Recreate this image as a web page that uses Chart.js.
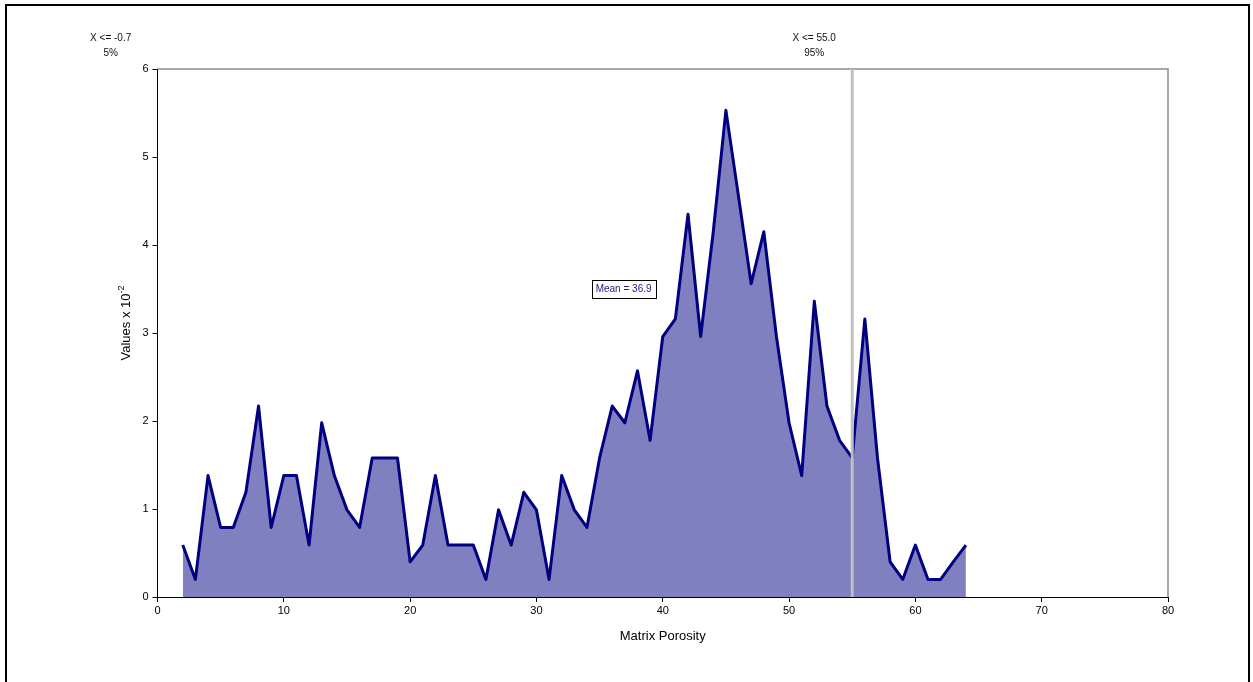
<!DOCTYPE html>
<html>
<head>
<meta charset="utf-8">
<title>Matrix Porosity</title>
<script src="https://cdn.jsdelivr.net/npm/chart.js@4/dist/chart.umd.min.js"></script>
<style>
  html, body { margin: 0; padding: 0; background: #fff; }
  #wrap { width: 1253px; height: 682px; position: relative; }
</style>
</head>
<body>
<div id="wrap"><canvas id="c" width="1253" height="682"></canvas></div>
<script>
// Porosity classes and their values (x 10^-2)
const porosity = [2, 3, 4, 5, 6, 7, 8, 9, 10, 11, 12, 13, 14, 15, 16, 17, 18, 19, 20, 21,
  22, 23, 24, 25, 26, 27, 28, 29, 30, 31, 32, 33, 34, 35, 36, 37, 38, 39, 40, 41,
  42, 43, 44, 45, 46, 47, 48, 49, 50, 51, 52, 53, 54, 55, 56, 57, 58, 59, 60, 61,
  62, 63, 64];
const values = [0.59, 0.20, 1.38, 0.79, 0.79, 1.19, 2.17, 0.79, 1.38, 1.38, 0.59, 1.98, 1.38, 0.99, 0.79, 1.58, 1.58, 1.58, 0.40, 0.59,
  1.38, 0.59, 0.59, 0.59, 0.20, 0.99, 0.59, 1.19, 0.99, 0.20, 1.38, 0.99, 0.79, 1.58, 2.17, 1.98, 2.57, 1.78, 2.96, 3.16,
  4.35, 2.96, 4.15, 5.53, 4.55, 3.56, 4.15, 2.96, 1.98, 1.38, 3.36, 2.17, 1.78, 1.58, 3.16, 1.58, 0.40, 0.20, 0.59, 0.20,
  0.20, 0.40, 0.59];

// Axis ticks
const xTicks = [0, 10, 20, 30, 40, 50, 60, 70, 80];
const yTicks = [0, 1, 2, 3, 4, 5, 6];

// Percentile markers and mean
const percentiles = [
  { value: -0.7, label: 'X <= -0.7', pct: '5%', line: false },
  { value: 55.0, label: 'X <= 55.0', pct: '95%', line: true }
];
const meanValue = 36.9;
const meanLabelY = 3.5;

const FONT = '"Liberation Sans", Arial, sans-serif';

const overlay = {
  id: 'overlay',
  beforeDraw(chart) {
    const ctx = chart.ctx;
    ctx.save();
    ctx.fillStyle = '#fff';
    ctx.fillRect(0, 0, chart.width, chart.height);
    ctx.restore();
  },
  afterDatasetsDraw(chart) {
    const ctx = chart.ctx;
    const xs = chart.scales.x, ys = chart.scales.y;
    const a = chart.chartArea;
    ctx.save();
    // top and right plot-frame edges
    ctx.strokeStyle = '#8c8c8c';
    ctx.lineWidth = 1.5;
    ctx.beginPath();
    ctx.moveTo(a.left, a.top);
    ctx.lineTo(a.right, a.top);
    ctx.lineTo(a.right, a.bottom);
    ctx.stroke();

    // percentile lines and their labels
    ctx.font = '10px ' + FONT;
    ctx.fillStyle = '#111';
    ctx.textAlign = 'center';
    ctx.textBaseline = 'middle';
    percentiles.forEach(p => {
      const px = xs.getPixelForValue(p.value);
      if (p.line) {
        ctx.strokeStyle = '#c0c0c0';
        ctx.lineWidth = 3;
        ctx.beginPath();
        ctx.moveTo(px, a.top);
        ctx.lineTo(px, a.bottom);
        ctx.stroke();
      }
      ctx.fillText(p.label, px - 38, 38);
      ctx.fillText(p.pct, px - 38, 53);
    });

    // mean label box
    const mx = xs.getPixelForValue(meanValue);
    const my = ys.getPixelForValue(meanLabelY);
    ctx.font = '10px ' + FONT;
    const txt = 'Mean = ' + meanValue.toFixed(1);
    const w = ctx.measureText(txt).width + 8;
    const h = 18;
    ctx.fillStyle = '#fff';
    ctx.fillRect(mx - w / 2, my - h / 2, w, h);
    ctx.strokeStyle = '#000';
    ctx.lineWidth = 1;
    ctx.strokeRect(Math.round(mx - w / 2) + 0.5, Math.round(my - h / 2) + 0.5, Math.round(w), h);
    ctx.fillStyle = '#1a1a80';
    ctx.textAlign = 'center';
    ctx.textBaseline = 'middle';
    ctx.fillText(txt, mx, my + 0.5);

    // y-axis title with superscript exponent
    ctx.save();
    ctx.translate(130, 323);
    ctx.rotate(-Math.PI / 2);
    ctx.fillStyle = '#000';
    ctx.font = '13px ' + FONT;
    const main = 'Values x 10';
    ctx.font = '13px ' + FONT;
    const mw = ctx.measureText(main).width;
    ctx.font = '9px ' + FONT;
    const sw = ctx.measureText('-2').width;
    const total = mw + sw;
    ctx.textAlign = 'left';
    ctx.textBaseline = 'alphabetic';
    ctx.font = '13px ' + FONT;
    ctx.fillText(main, -total / 2, 0);
    ctx.font = '9px ' + FONT;
    ctx.fillText('-2', -total / 2 + mw, -6);
    ctx.restore();

    // outer frame
    ctx.strokeStyle = '#000';
    ctx.lineWidth = 2;
    ctx.strokeRect(6, 5, 1243, 700);
    ctx.restore();
  }
};

new Chart(document.getElementById('c'), {
  type: 'line',
  data: {
    datasets: [{
      data: porosity.map((p, i) => ({ x: p, y: values[i] })),
      borderColor: '#000080',
      borderWidth: 3,
      backgroundColor: '#8080c0',
      fill: 'origin',
      pointRadius: 0,
      tension: 0,
      borderJoinStyle: 'round'
    }]
  },
  options: {
    responsive: false,
    animation: false,
    devicePixelRatio: 1,
    layout: { padding: { top: 69, left: 0, right: 85, bottom: 34 } },
    plugins: { legend: { display: false }, tooltip: { enabled: false } },
    scales: {
      x: {
        type: 'linear',
        min: 0, max: 80,
        afterBuildTicks(s) { s.ticks = xTicks.map(v => ({ value: v })); },
        afterFit(s) { s.height = 51; },
        ticks: { font: { family: FONT, size: 11 }, color: '#000', padding: 2, maxRotation: 0 },
        grid: { drawOnChartArea: false, drawTicks: true, tickLength: 5, color: '#000', lineWidth: 1 },
        border: { color: '#000', width: 1 },
        title: { display: true, text: 'Matrix Porosity', font: { family: FONT, size: 13 }, color: '#000', padding: { top: 4, bottom: 4 } }
      },
      y: {
        type: 'linear',
        min: 0, max: 6,
        afterBuildTicks(s) { s.ticks = yTicks.map(v => ({ value: v })); },
        afterFit(s) { s.width = 157.5; },
        ticks: { font: { family: FONT, size: 11 }, color: '#000', padding: 4 },
        grid: { drawOnChartArea: false, drawTicks: true, tickLength: 5, color: '#000', lineWidth: 1 },
        border: { color: '#000', width: 1 }
      }
    }
  },
  plugins: [overlay]
});
</script>
</body>
</html>
